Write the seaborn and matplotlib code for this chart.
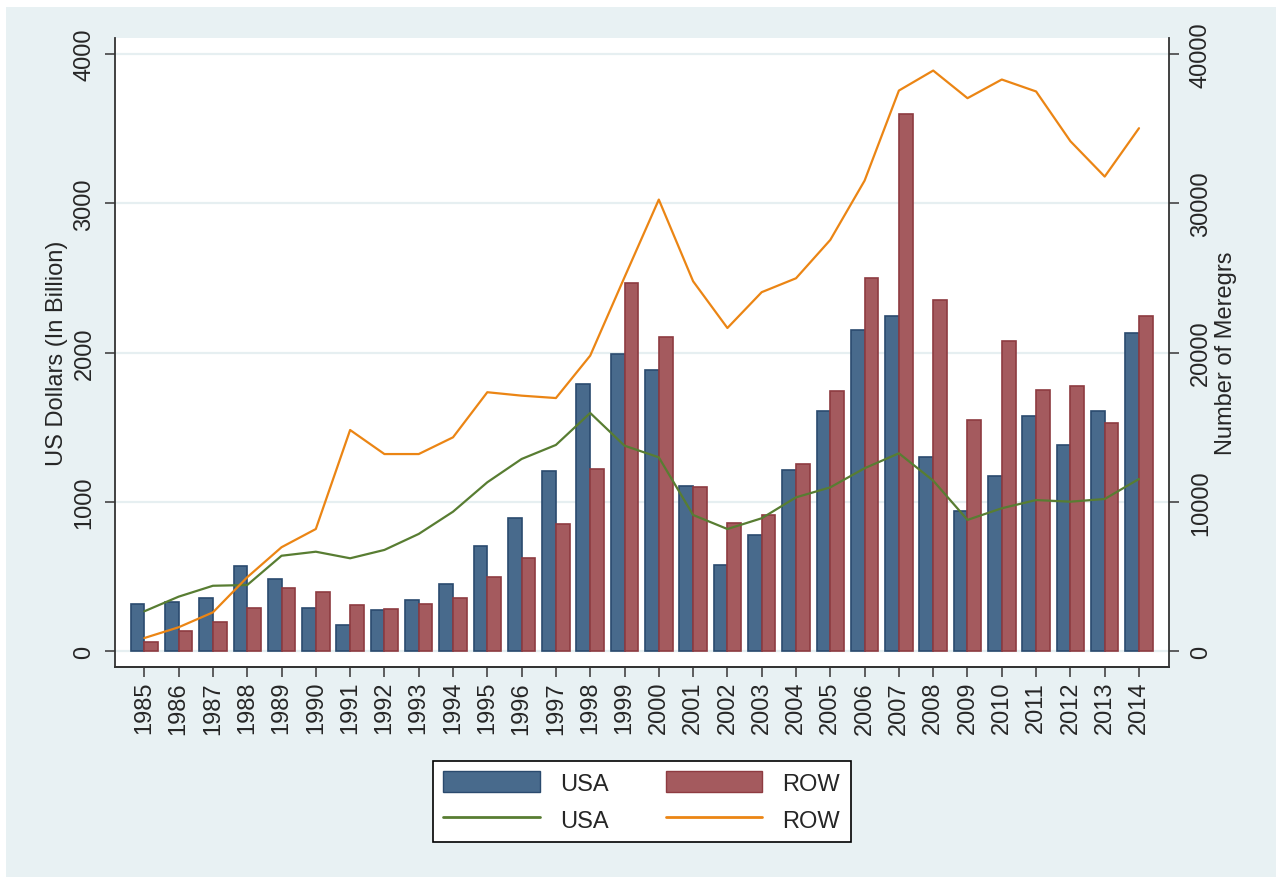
import numpy as np
import pandas as pd
import seaborn as sns
from matplotlib import pyplot as plt
from matplotlib.patches import Patch, Rectangle
from matplotlib.lines import Line2D

# values
years = [str(y) for y in range(1985, 2015)]
usa_usd = [317, 327, 360, 568, 485, 293, 176, 277, 344, 454,
           707, 894, 1210, 1787, 1988, 1883, 1110, 579, 782, 1213,
           1610, 2150, 2244, 1300, 937, 1173, 1576, 1379, 1612, 2133]
row_usd = [60, 138, 199, 293, 425, 394, 311, 284, 317, 354,
           500, 628, 853, 1222, 2467, 2105, 1101, 862, 912, 1256,
           1746, 2502, 3599, 2355, 1550, 2075, 1748, 1775, 1527, 2244]
usa_deals = [2680, 3660, 4390, 4440, 6400, 6670, 6230, 6790, 7860, 9350,
             11320, 12880, 13820, 15960, 13770, 12990, 9130, 8190, 8910, 10310,
             10980, 12260, 13260, 11430, 8800, 9580, 10130, 10020, 10200, 11540]
row_deals = [890, 1610, 2610, 4960, 6970, 8190, 14820, 13210, 13210, 14330,
             17350, 17120, 16960, 19800, 25050, 30250, 24780, 21650, 24050, 24980,
             27550, 31520, 37550, 38890, 37040, 38290, 37490, 34160, 31790, 35030]

blue, blue_edge = "#486A8C", "#2A4A6E"
red, red_edge = "#A45A5E", "#8E3B41"
green = "#587D32"
orange = "#EB8514"
bg = "#E8F1F3"

sns.set_theme(style="white")
plt.rcParams["font.family"] = ["Liberation Sans", "DejaVu Sans"]
plt.rcParams["font.size"] = 17

df = pd.DataFrame({
    "year": years * 2,
    "region": ["USA"] * len(years) + ["ROW"] * len(years),
    "value": usa_usd + row_usd,
})

fig = plt.figure(figsize=(12.76, 8.78), dpi=100, facecolor="white")
# stata-like outer background, thin white strip left and top only
fig.patches.append(Rectangle((6 / 1276, -0.05), 1.1, 1.05 - 8 / 878, transform=fig.transFigure,
                             facecolor=bg, edgecolor="none", zorder=-10))
ax1 = fig.add_axes([115 / 1276, 1 - 668 / 878, (1169 - 115) / 1276, (668 - 39) / 878])
ax1.set_facecolor("white")

sns.barplot(data=df, x="year", y="value", hue="region", hue_order=["USA", "ROW"],
            palette=[blue, red], saturation=1, width=0.8, gap=0, linewidth=1.2,
            legend=False, ax=ax1)
for p in ax1.patches:
    fc = p.get_facecolor()
    p.set_edgecolor(blue_edge if fc[2] > fc[0] else red_edge)

ax1.set_xlim(-0.855, 29.875)
ax1.set_ylim(-105, 4107)
ax1.set_yticks([0, 1000, 2000, 3000, 4000])
ax1.yaxis.grid(True, color="#E6EFF1", lw=1.6)
ax1.set_axisbelow(True)
ax1.set_xlabel("")
ax1.set_ylabel("US Dollars (In Billion)", fontsize=17, labelpad=4)
ax1.tick_params(axis="x", length=7, width=1.2, color="#444444", pad=3,
                labelsize=17, bottom=True)
ax1.tick_params(axis="y", length=7, width=1.2, color="#444444", pad=7,
                labelsize=17, left=True)
plt.setp(ax1.get_xticklabels(), rotation=90, va="top", ha="center")
plt.setp(ax1.get_yticklabels(), rotation=90, va="center", ha="right")

ax2 = ax1.twinx()
x_idx = np.arange(len(years))
sns.lineplot(x=x_idx, y=usa_deals, color=green, lw=1.6, ax=ax2)
sns.lineplot(x=x_idx, y=row_deals, color=orange, lw=1.6, ax=ax2)
ax2.set_ylim(-1050, 41070)
ax2.set_xlim(-0.855, 29.875)
ax2.set_yticks([0, 10000, 20000, 30000, 40000])
ax2.set_ylabel("Number of Meregrs", fontsize=17, labelpad=2)
ax2.tick_params(axis="y", length=7, width=1.2, color="#444444", pad=8,
                labelsize=17, right=True)
plt.setp(ax2.get_yticklabels(), rotation=90, va="center", ha="left")

for ax in (ax1, ax2):
    ax.spines["top"].set_visible(False)
    for s in ("left", "right", "bottom"):
        ax.spines[s].set_color("#333333")
        ax.spines[s].set_linewidth(1.3)
ax1.spines["right"].set_visible(False)
ax2.spines["left"].set_visible(False)

handles = [Patch(facecolor=blue, edgecolor=blue_edge),
           Line2D([], [], color=green, lw=2),
           Patch(facecolor=red, edgecolor=red_edge),
           Line2D([], [], color=orange, lw=2)]
labels = ["USA", "USA", "ROW", "ROW"]
leg = fig.legend(handles, labels, ncol=2, loc="center", bbox_to_anchor=(0.503, 0.086),
                 frameon=True, fancybox=False, framealpha=1, edgecolor="black",
                 fontsize=17, handlelength=4.1, handleheight=1.0, handletextpad=0.85,
                 columnspacing=2.4, labelspacing=0.55, borderpad=0.45)
leg.get_frame().set_linewidth(1.2)

fig.savefig("out.png", dpi=100, facecolor=fig.get_facecolor())
